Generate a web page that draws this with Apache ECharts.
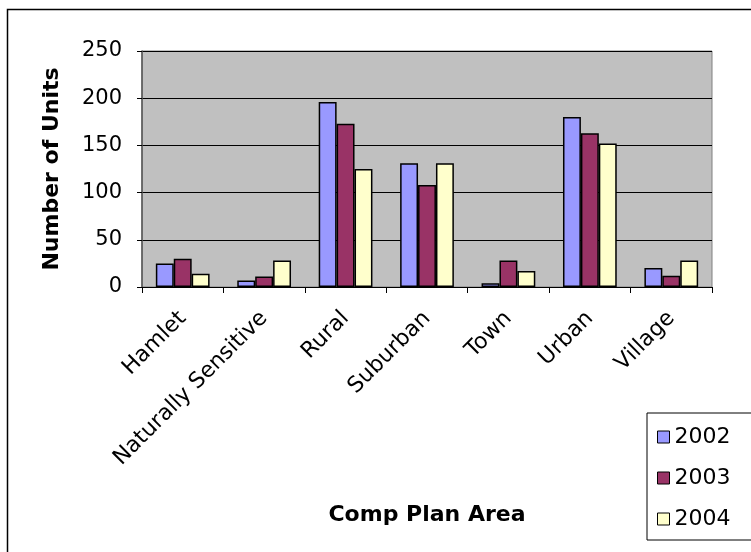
<!DOCTYPE html>
<html>
<head>
<meta charset="utf-8">
<script src="https://cdn.jsdelivr.net/npm/echarts@6/dist/echarts.min.js"></script>
<style>
  html, body { margin: 0; padding: 0; background: #fff; }
  #chart { width: 751px; height: 552px; }
</style>
</head>
<body>
<div id="chart"></div>
<script>
// categories and values
const areas = ['Hamlet', 'Naturally Sensitive', 'Rural', 'Suburban', 'Town', 'Urban', 'Village'];
const years = ['2002', '2003', '2004'];
const units2002 = [25, 7, 196, 131, 4, 180, 20];
const units2003 = [30, 11, 173, 108, 28, 163, 12];
const units2004 = [14, 28, 125, 131, 17, 152, 28];
const yTicks = [0, 50, 100, 150, 200, 250];

const colors = ['#9999FF', '#993366', '#FFFFCC'];
const font = 'DejaVu Sans, Arial, sans-serif';

let myChart = echarts.init(document.getElementById('chart'));

let seriesData = [units2002, units2003, units2004];

let option = {
  animation: false,
  backgroundColor: '#fff',
  textStyle: { fontFamily: font },
  graphic: [
    {
      type: 'rect',
      shape: { x: 7.5, y: 9.5, width: 800, height: 600 },
      style: { fill: null, stroke: '#000', lineWidth: 1.5 },
      silent: true
    }
  ],
  grid: {
    left: 142,
    top: 51,
    width: 570,
    height: 236,
    show: true,
    backgroundColor: '#C0C0C0',
    borderColor: '#808080',
    borderWidth: 1
  },
  legend: {
    orient: 'vertical',
    left: 647,
    top: 413,
    data: years,
    icon: 'rect',
    itemWidth: 12,
    itemHeight: 12,
    itemGap: 19,
    itemTextGap: 8,
    padding: [13, 40, 10, 10],
    backgroundColor: '#fff',
    borderColor: '#000',
    borderWidth: 1,
    textStyle: { fontSize: 22, color: '#000', fontFamily: font },
    itemStyle: { borderColor: '#000', borderWidth: 1 }
  },
  xAxis: {
    type: 'category',
    data: areas,
    name: 'Comp Plan Area',
    nameLocation: 'middle',
    nameGap: 217,
    nameTextStyle: { fontSize: 22, fontWeight: 'bold', color: '#000', fontFamily: font },
    axisLine: { lineStyle: { color: '#000', width: 1 } },
    axisTick: { show: true, length: 6, lineStyle: { color: '#000' } },
    axisLabel: {
      rotate: 45,
      fontSize: 22,
      color: '#000',
      margin: 28,
      interval: 0,
      fontFamily: font
    }
  },
  yAxis: {
    type: 'value',
    min: yTicks[0],
    max: yTicks[yTicks.length - 1],
    interval: 50,
    name: 'Number of Units',
    nameLocation: 'middle',
    nameGap: 79,
    nameTextStyle: { fontSize: 22, fontWeight: 'bold', color: '#000', fontFamily: font },
    axisLine: { show: true, lineStyle: { color: '#555', width: 1.5 } },
    axisTick: { show: true, length: 5, inside: false, lineStyle: { color: '#000' } },
    axisLabel: { fontSize: 21, color: '#000', margin: 20, fontFamily: font },
    splitLine: { show: true, lineStyle: { color: '#000', width: 1 } }
  },
  series: years.map((y, i) => ({
    name: y,
    type: 'bar',
    data: seriesData[i],
    barGap: '0%',
    barCategoryGap: '34%',
    itemStyle: { color: colors[i], borderColor: '#000', borderWidth: 1.5 }
  }))
};

myChart.setOption(option);
</script>
</body>
</html>
